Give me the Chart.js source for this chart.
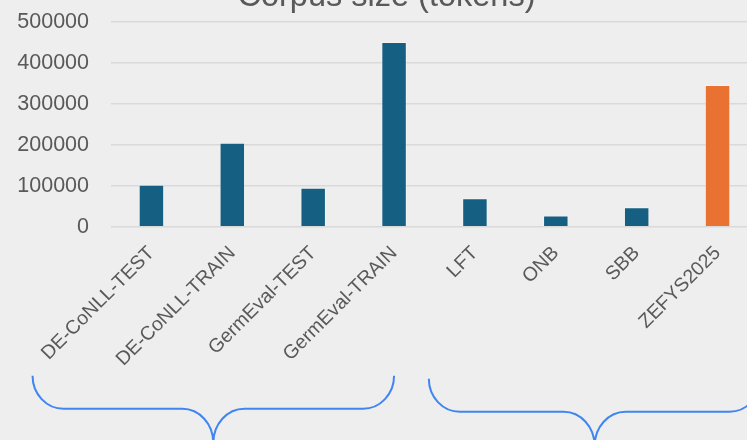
<!DOCTYPE html>
<html>
<head>
<meta charset="utf-8">
<script src="https://cdn.jsdelivr.net/npm/chart.js@4.4.1/dist/chart.umd.min.js"></script>
<style>
html, body { margin: 0; padding: 0; background: #eeeeee; overflow: hidden; }
#wrap { position: relative; width: 747px; height: 440px; overflow: hidden; }
#box { position: absolute; left: -23px; top: -22px; width: 829px; height: 493px; }
</style>
</head>
<body>
<div id="wrap"><div id="box"><canvas id="corpus"></canvas></div></div>
<script>
var corpora = ["DE-CoNLL-TEST", "DE-CoNLL-TRAIN", "GermEval-TEST", "GermEval-TRAIN", "LFT", "ONB", "SBB", "ZEFYS2025"];
var tokens = [103000, 205000, 95600, 451000, 69700, 27700, 47800, 346000];
var barColors = ["#156082", "#156082", "#156082", "#156082", "#156082", "#156082", "#156082", "#e97132"];
var yTicks = [0, 100000, 200000, 300000, 400000, 500000];
// brace spans in category units (left end, right end)
var braceSpans = [[-1.47, 3.0], [3.43, 7.53]];

// curly braces under the two corpus groups
var bracePlugin = {
  id: 'braces',
  afterDraw: function(chart) {
    var ctx = chart.ctx;
    var x = chart.scales.x;
    var step = x.getPixelForValue(1) - x.getPixelForValue(0);
    var base = chart.chartArea.bottom;
    var drops = [[149, 182, 216], [152, 185, 219]];
    ctx.save();
    ctx.strokeStyle = '#3f86f2';
    ctx.lineWidth = 2;
    braceSpans.forEach(function(s, i) {
      var x0 = x.getPixelForValue(0) + s[0] * step;
      var x1 = x.getPixelForValue(0) + s[1] * step;
      var xc = (x0 + x1) / 2;
      var yTop = base + drops[i][0], yMid = base + drops[i][1], yBot = base + drops[i][2];
      var r = 31, k = 0.552;
      var h1 = yMid - yTop, h2 = yBot - yMid;
      ctx.beginPath();
      ctx.moveTo(x0, yTop);
      ctx.bezierCurveTo(x0, yTop + k * h1, x0 + r - k * r, yMid, x0 + r, yMid);
      ctx.lineTo(xc - r, yMid);
      ctx.bezierCurveTo(xc - r + k * r, yMid, xc, yBot - k * h2, xc, yBot);
      ctx.moveTo(x1, yTop);
      ctx.bezierCurveTo(x1, yTop + k * h1, x1 - r + k * r, yMid, x1 - r, yMid);
      ctx.lineTo(xc + r, yMid);
      ctx.bezierCurveTo(xc + r - k * r, yMid, xc, yBot - k * h2, xc, yBot);
      ctx.stroke();
    });
    ctx.restore();
  }
};

var ctx = document.getElementById("corpus");
var myChart = new Chart(ctx, {
  type: 'bar',
  data: {
    labels: corpora,
    datasets: [{
      label: 'Corpus size',
      data: tokens,
      backgroundColor: barColors,
      borderColor: 'rgba(255,255,255,0.35)',
      borderWidth: 1,
      barPercentage: 0.315,
      categoryPercentage: 1
    }]
  },
  options: {
    responsive: true,
    maintainAspectRatio: false,
    animation: false,
    devicePixelRatio: 1,
    layout: { padding: { left: 38, right: 48, bottom: 93 } },
    plugins: {
      legend: { display: false },
      tooltip: { enabled: false },
      title: {
        display: true,
        text: 'Corpus size (tokens)',
        color: '#595959',
        font: { family: 'Liberation Sans', size: 32.5, weight: 'normal' },
        padding: { top: 0, bottom: 5 }
      }
    },
    scales: {
      x: {
        grid: { display: false },
        border: { display: false },
        ticks: {
          color: '#595959',
          font: { family: 'Liberation Sans', size: 19.5 },
          minRotation: 45,
          maxRotation: 45,
          autoSkip: false,
          padding: 7
        }
      },
      y: {
        min: 0,
        max: 500000,
        afterBuildTicks: function(axis) {
          axis.ticks = yTicks.map(function(v) { return { value: v }; });
        },
        afterFit: function(axis) { axis.width = 96; },
        grid: { color: '#d9d9d9', lineWidth: 1.5, drawTicks: false },
        border: { display: false },
        ticks: {
          color: '#595959',
          font: { family: 'Liberation Sans', size: 21.5 },
          padding: 22,
          callback: function(v) { return String(v); }
        }
      }
    }
  },
  plugins: [bracePlugin]
});
</script>
</body>
</html>
